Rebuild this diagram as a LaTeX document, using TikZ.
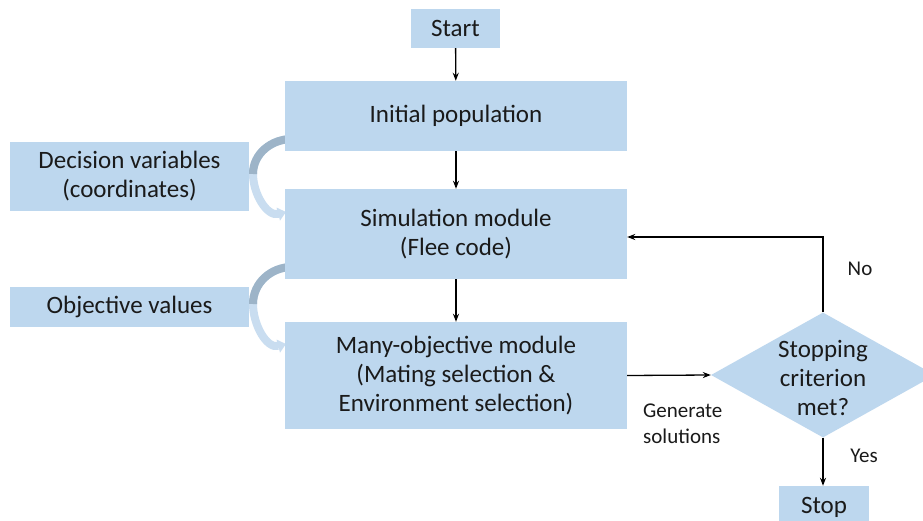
\documentclass[tikz,border=0pt]{standalone}
\usepackage{fontspec}
\setmainfont{Carlito}
\usetikzlibrary{shapes.geometric,arrows.meta}
\definecolor{boxblue}{HTML}{BDD7EE}
\definecolor{ribdark}{HTML}{9DB4C8}
\definecolor{riblight}{HTML}{C9DDF0}
\definecolor{txt}{HTML}{1A1A1A}
\tikzset{
  box/.style={fill=boxblue, draw=none, inner sep=0pt, align=center, text=txt,
    font=\fontsize{25}{29}\selectfont},
  lbl/.style={font=\fontsize{21}{26}\selectfont, inner sep=0pt, text=txt},
  arr/.style={-{Stealth[length=8pt,width=6pt]}, line width=1.3pt, black},
  ribbon/.style={line width=8pt, riblight, -{Triangle[length=8pt,width=13pt]}},
  ribtop/.style={line width=8pt, ribdark},
}
\begin{document}
\begin{tikzpicture}[x=1pt,y=-1pt]
\clip (0,0) rectangle (923,521);
\fill[white] (0,0) rectangle (923,521);
% curved ribbons (drawn behind boxes)
\coordinate (r1a) at (292,139);
\coordinate (r1m) at (253,174);
\coordinate (r1b) at (286,212);
\coordinate (r2a) at (292,267);
\coordinate (r2m) at (253,304);
\coordinate (r2b) at (286,344);
\draw[ribbon] (r1a) to[out=180,in=90] (r1m) to[out=-90,in=195] (r1b);
\draw[ribtop] (r1a) to[out=180,in=90] (r1m);
\draw[ribbon] (r2a) to[out=180,in=90] (r2m) to[out=-90,in=195] (r2b);
\draw[ribtop] (r2a) to[out=180,in=90] (r2m);
% boxes
\node[box, minimum width=89, minimum height=39] (start) at (455.5,28.5) {Start};
\node[box, minimum width=342, minimum height=70] (init) at (456,116) {Initial population};
\node[box, minimum width=239, minimum height=69] (dec) at (129.5,176.5) {Decision variables\\(coordinates)};
\node[box, minimum width=342, minimum height=90] (sim) at (456,234) {Simulation module\\(Flee code)};
\node[box, minimum width=239, minimum height=40] (obj) at (129.5,307) {Objective values};
\node[box, minimum width=342, minimum height=107] (many) at (456,375.5) {Many-objective module\\(Mating selection \&\\Environment selection)};
\node[diamond, fill=boxblue, draw=none, inner sep=0pt, minimum width=224, minimum height=125] (dia) at (823,375) {};
\node[box, fill=none] (diatext) at (823,378) {Stopping\\criterion\\met?};
\node[box, minimum width=90, minimum height=42] (stop) at (824,507) {Stop};
% connectors
\draw[arr] (start) -- (init);
\draw[arr] (init) -- (sim);
\draw[arr] (sim) -- (many);
\draw[arr] (many.east) -- (dia.west);
\coordinate (nocorner) at (823,237);
\draw[arr] (dia.north) -- (nocorner) -- (sim.east |- nocorner);
\draw[arr] (dia.south) -- (stop.north -| dia.south);
% labels
\node[lbl] (no) at (860,269) {No};
\node[lbl] (yes) at (864,456) {Yes};
\node[lbl, align=left, anchor=west] (gen) at (643,424) {Generate\\solutions};
\end{tikzpicture}
\end{document}
